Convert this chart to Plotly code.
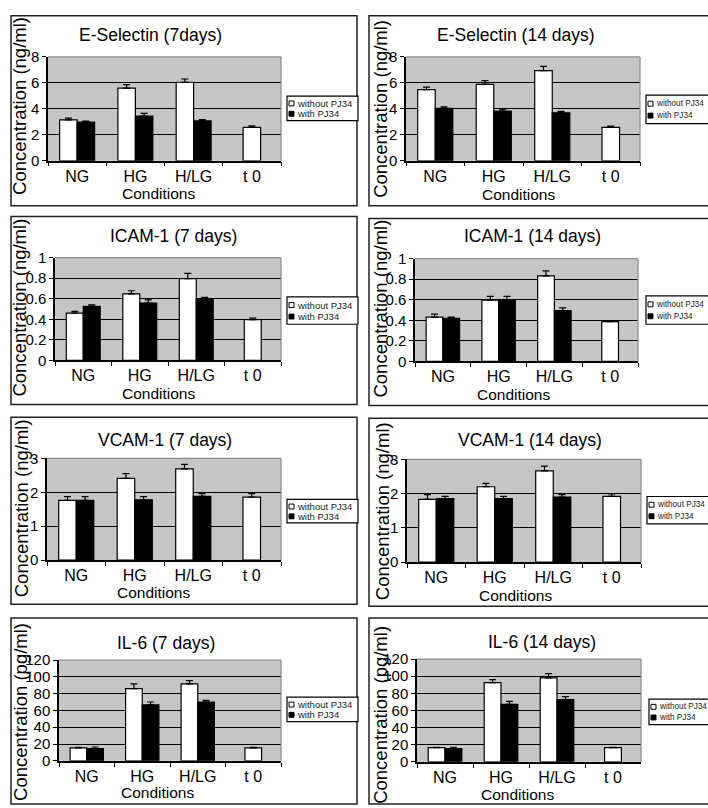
import plotly.graph_objects as go

# ---------------- data ----------------
categories = ["NG", "HG", "H/LG", "t 0"]
with_categories = ["NG", "HG", "H/LG"]

es7_without = [3.15, 5.6, 6.05, 2.57]
es7_without_err = [0.13, 0.27, 0.25, 0.12]
es7_with = [2.97, 3.45, 3.07]
es7_with_err = [0.09, 0.2, 0.1]

es14_without = [5.48, 5.88, 6.94, 2.57]
es14_without_err = [0.2, 0.3, 0.33, 0.1]
es14_with = [4.04, 3.82, 3.7]
es14_with_err = [0.12, 0.15, 0.1]

icam7_without = [0.46, 0.648, 0.797, 0.397]
icam7_without_err = [0.017, 0.03, 0.05, 0.015]
icam7_with = [0.526, 0.558, 0.6]
icam7_with_err = [0.015, 0.032, 0.013]

icam14_without = [0.43, 0.597, 0.832, 0.387]
icam14_without_err = [0.03, 0.035, 0.048, 0.005]
icam14_with = [0.42, 0.6, 0.494]
icam14_with_err = [0.01, 0.032, 0.026]

vcam7_without = [1.76, 2.41, 2.69, 1.86]
vcam7_without_err = [0.11, 0.14, 0.13, 0.1]
vcam7_with = [1.76, 1.78, 1.88]
vcam7_with_err = [0.11, 0.09, 0.08]

vcam14_without = [1.83, 2.2, 2.66, 1.92]
vcam14_without_err = [0.14, 0.1, 0.14, 0.07]
vcam14_with = [1.85, 1.85, 1.9]
vcam14_with_err = [0.07, 0.07, 0.07]

il6_7_without = [15.5, 86, 91.5, 15.5]
il6_7_without_err = [0.5, 5.5, 4, 0.5]
il6_7_with = [14.6, 66.5, 70]
il6_7_with_err = [1.9, 3.5, 2]

il6_14_without = [16.5, 92.5, 98, 16.5]
il6_14_without_err = [0.5, 3.5, 5, 0.5]
il6_14_with = [15.5, 67, 72.5]
il6_14_with_err = [1.5, 3.5, 3.5]

series_names = ["without PJ34", "with PJ34"]
x_title = "Conditions"

W, H = 708, 808
FONT = "Liberation Sans, Arial, sans-serif"


def px(x):
    return x / W


def py(y):
    return 1 - y / H


panels = [
    dict(title="E-Selectin (7days)", ytitle="Concentration (ng/ml)",
         wo=es7_without, woe=es7_without_err, wi=es7_with, wie=es7_with_err,
         yr=[0, 8], dt=2, plot=(48, 49, 281, 155), box=(11, 7, 357, 201),
         tpos=(150, 27), ypos=(20, 99), cpos=(158, 188), leg=(287, 89, 358, 114)),
    dict(title="E-Selectin (14 days)", ytitle="Concentration (ng/ml)",
         wo=es14_without, woe=es14_without_err, wi=es14_with, wie=es14_with_err,
         yr=[0, 8], dt=2, plot=(406, 49, 640, 155), box=(369, 7, 712, 201),
         tpos=(516, 27), ypos=(381, 102), cpos=(518, 189), leg=(646, 88, 712, 117)),
    dict(title="ICAM-1 (7 days)", ytitle="Concentration (ng/ml)",
         wo=icam7_without, woe=icam7_without_err, wi=icam7_with, wie=icam7_with_err,
         yr=[0, 1], dt=0.2, plot=(55, 254, 281, 359), box=(11, 212, 357, 404),
         tpos=(173, 232), ypos=(20, 305), cpos=(158, 393), leg=(287, 294, 358, 322)),
    dict(title="ICAM-1 (14 days)", ytitle="Concentration (ng/ml)",
         wo=icam14_without, woe=icam14_without_err, wi=icam14_with, wie=icam14_with_err,
         yr=[0, 1], dt=0.2, plot=(415, 255, 638, 360), box=(369, 214, 712, 405),
         tpos=(532, 232), ypos=(381, 306), cpos=(513, 394), leg=(646, 293, 712, 322)),
    dict(title="VCAM-1 (7 days)", ytitle="Concentration (ng/ml)",
         wo=vcam7_without, woe=vcam7_without_err, wi=vcam7_with, wie=vcam7_with_err,
         yr=[0, 3], dt=1, plot=(47, 459, 281, 563), box=(11, 417, 357, 608),
         tpos=(165, 440), ypos=(21, 510), cpos=(153, 596), leg=(287, 501, 358, 525)),
    dict(title="VCAM-1 (14 days)", ytitle="Concentration (ng/ml)",
         wo=vcam14_without, woe=vcam14_without_err, wi=vcam14_with, wie=vcam14_with_err,
         yr=[0, 3], dt=1, plot=(407, 460, 641, 565), box=(369, 418, 712, 610),
         tpos=(530, 440), ypos=(382, 513), cpos=(515, 599), leg=(647, 498, 712, 526)),
    dict(title="IL-6 (7 days)", ytitle="Concentration (pg/ml)",
         wo=il6_7_without, woe=il6_7_without_err, wi=il6_7_with, wie=il6_7_with_err,
         yr=[0, 120], dt=20, plot=(59, 665, 281, 768), box=(11, 622, 357, 812),
         tpos=(166, 648), ypos=(21, 718), cpos=(157, 800), leg=(287, 703, 358, 728)),
    dict(title="IL-6 (14 days)", ytitle="Concentration (pg/ml)",
         wo=il6_14_without, woe=il6_14_without_err, wi=il6_14_with, wie=il6_14_with_err,
         yr=[0, 120], dt=20, plot=(417, 664, 641, 769), box=(369, 622, 712, 812),
         tpos=(542, 647), ypos=(381, 721), cpos=(517, 802), leg=(649, 705, 712, 731)),
]

fig = go.Figure()
layout = dict(width=W, height=H, margin=dict(l=0, r=0, t=0, b=0),
              paper_bgcolor="white", plot_bgcolor="#c6c6c6",
              barmode="overlay", showlegend=False,
              font=dict(family=FONT, color="black"))
shapes = []
annotations = []
BW = 0.3

for i, p in enumerate(panels):
    n = i + 1
    xa = "x" if n == 1 else f"x{n}"
    ya = "y" if n == 1 else f"y{n}"
    xk = "xaxis" if n == 1 else f"xaxis{n}"
    yk = "yaxis" if n == 1 else f"yaxis{n}"
    x0, y0, x1, y1 = p["plot"]

    # box around the panel
    bx0, by0, bx1, by1 = p["box"]
    shapes.append(dict(type="rect", xref="paper", yref="paper",
                       x0=px(bx0), x1=px(bx1), y0=py(by1), y1=py(by0),
                       line=dict(color="#222", width=1.5), layer="below"))

    offs = [-BW if c != "t 0" else -BW / 2 for c in categories]
    fig.add_trace(go.Bar(
        x=categories, y=p["wo"], width=BW, offset=offs, name=series_names[0],
        marker=dict(color="white", line=dict(color="black", width=1.2)),
        error_y=dict(type="data", symmetric=False, array=p["woe"],
                     arrayminus=[0] * len(p["woe"]), color="black",
                     thickness=1.2, width=3.5),
        xaxis=xa, yaxis=ya))
    fig.add_trace(go.Bar(
        x=with_categories, y=p["wi"], width=BW, offset=0, name=series_names[1],
        marker=dict(color="black", line=dict(color="black", width=1.2)),
        error_y=dict(type="data", symmetric=False, array=p["wie"],
                     arrayminus=[0] * len(p["wie"]), color="black",
                     thickness=1.2, width=3.5),
        xaxis=xa, yaxis=ya))

    layout[xk] = dict(domain=[px(x0), px(x1)], anchor=ya, type="category",
                      categoryorder="array", categoryarray=categories,
                      range=[-0.5, 3.5], tickson="boundaries", ticks="outside",
                      ticklen=4, tickcolor="black", tickwidth=1.2,
                      showline=True, linecolor="black", linewidth=1.5,
                      showgrid=False, zeroline=False, fixedrange=True,
                      tickfont=dict(size=16, family=FONT, color="black"))
    layout[yk] = dict(domain=[py(y1), py(y0)], anchor=xa, range=p["yr"],
                      dtick=p["dt"], tick0=0, ticks="outside", ticklen=4,
                      tickcolor="black", tickwidth=1.2, showline=True,
                      linecolor="black", linewidth=1.5, showgrid=True,
                      gridcolor="black", gridwidth=1.3, zeroline=False,
                      fixedrange=True,
                      tickfont=dict(size=15, family=FONT, color="black"))

    # grey plot-area border on top and right
    dref_x = f"{xa} domain"
    dref_y = f"{ya} domain"
    shapes.append(dict(type="line", xref=dref_x, yref=dref_y, x0=0, x1=1, y0=1, y1=1,
                       line=dict(color="#8a8a8a", width=1.2), layer="above"))
    shapes.append(dict(type="line", xref=dref_x, yref=dref_y, x0=1, x1=1, y0=0, y1=1,
                       line=dict(color="#8a8a8a", width=1.2), layer="above"))

    # texts
    annotations.append(dict(text=p["title"], xref="paper", yref="paper",
                            x=px(p["tpos"][0]), y=py(p["tpos"][1]),
                            xanchor="center", yanchor="middle", showarrow=False,
                            font=dict(size=17.5, family=FONT, color="black")))
    annotations.append(dict(text=p["ytitle"], xref="paper", yref="paper",
                            x=px(p["ypos"][0]), y=py(p["ypos"][1]), textangle=-90,
                            xanchor="center", yanchor="middle", showarrow=False,
                            font=dict(size=18.5, family=FONT, color="black")))
    annotations.append(dict(text=x_title, xref="paper", yref="paper",
                            x=px(p["cpos"][0]), y=py(p["cpos"][1]),
                            xanchor="center", yanchor="middle", showarrow=False,
                            font=dict(size=15.5, family=FONT, color="black")))

    # legend (drawn)
    lx0, ly0, lx1, ly1 = p["leg"]
    right_col = lx0 > 500
    shapes.append(dict(type="rect", xref="paper", yref="paper",
                       x0=px(lx0), x1=px(lx1), y0=py(ly1), y1=py(ly0),
                       fillcolor="white", line=dict(color="black", width=1.2),
                       layer="above"))
    lh = ly1 - ly0
    for k, (nm, fc) in enumerate(zip(series_names, ["white", "black"])):
        cy = ly0 + lh * (0.3 if k == 0 else 0.72)
        shapes.append(dict(type="rect", xref="paper", yref="paper",
                           x0=px(lx0 + 2), x1=px(lx0 + 7), y0=py(cy + 2.5), y1=py(cy - 2.5),
                           fillcolor=fc, line=dict(color="black", width=1),
                           layer="above"))
        annotations.append(dict(text=nm, xref="paper", yref="paper",
                                x=px(lx0 + 7.5), y=py(cy), xanchor="left",
                                yanchor="middle", showarrow=False,
                                font=dict(size=8.2 if right_col else 9.5,
                                          family=FONT, color="#222")))

layout["shapes"] = shapes
layout["annotations"] = annotations
fig.update_layout(**layout)
fig.write_html("out.html")
